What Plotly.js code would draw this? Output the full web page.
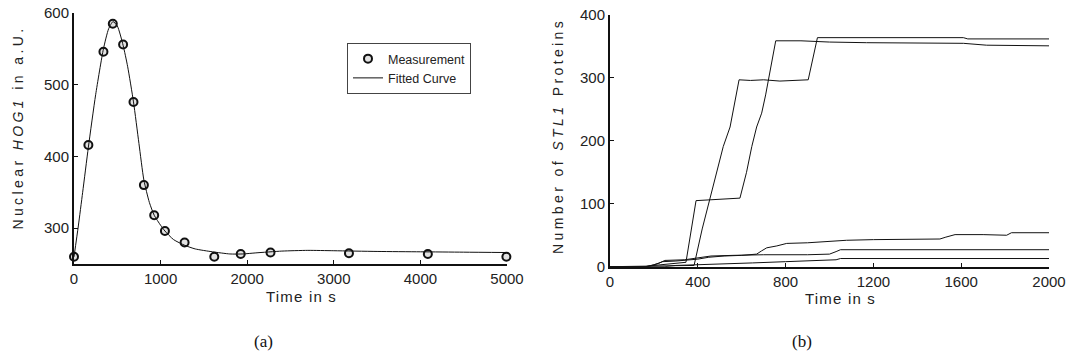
<!DOCTYPE html>
<html>
<head>
<meta charset="utf-8">
<script src="https://cdn.plot.ly/plotly-3.0.1.min.js"></script>
<style>
  html, body { margin: 0; padding: 0; background: #fff; }
  #chart { width: 1073px; height: 360px; }
  .ytitle, .y2title { letter-spacing: 3.4px; }
  .xtitle, .x2title { letter-spacing: 1.2px; }
  .g-xtitle, .g-x2title { transform: translateX(11px); }
  .g-ytitle { transform: translateY(-11px); }
  .g-y2title { transform: translateY(-5px); }
</style>
</head>
<body>
<div id="chart"></div>
<script>
// ---- Panel (a): nuclear HOG1 ----
const measTime  = [0, 166, 340, 448, 567, 687, 807, 926, 1050, 1277, 1620, 1925, 2269, 3175, 4086, 4993];
const measValue = [260, 416, 546, 585, 556, 476, 360, 318, 296, 280, 260, 264, 266, 265, 264, 260];

const fitTime  = [0, 50, 100, 166, 250, 340, 400, 450, 500, 567, 620, 687, 750, 807, 870, 926, 1000, 1050, 1150, 1280, 1400, 1600, 1800, 1950, 2100, 2400, 2700, 3000, 3500, 4000, 4500, 5000];
const fitValue = [260, 303, 350, 413, 486, 550, 578, 588, 582, 555, 525, 476, 418, 367, 336, 318, 304, 296, 284, 276, 271, 267, 264, 264, 265.5, 268, 269, 268.5, 267.5, 267, 266.5, 266];

// ---- Panel (b): STL1 protein trajectories ----
const trajATime  = [0, 160, 200, 260, 340, 346, 392, 450, 500, 592, 622, 646, 668, 691, 709, 729, 755, 870, 1000, 1169, 1400, 1610, 1716, 1850, 2000];
const trajAValue = [0, 0, 2, 4, 6, 7, 105, 106, 107, 109, 150, 191, 222, 244, 273, 310, 359, 359, 357, 356, 356, 355, 352, 351, 351];

const trajBTime  = [0, 300, 383, 420, 453, 478, 516, 547, 588, 640, 700, 774, 850, 903, 945, 1200, 1610, 1630, 2000];
const trajBValue = [0, 1, 2, 60, 104, 138, 191, 222, 297, 296, 297, 295, 296, 297, 364, 364, 364, 362, 362];

const trajCTime  = [0, 160, 200, 240, 300, 350, 400, 450, 520, 600, 650, 668, 690, 714, 760, 805, 900, 1000, 1078, 1200, 1300, 1503, 1530, 1572, 1700, 1807, 1829, 2000];
const trajCValue = [0, 0, 3, 8, 9, 10, 12, 15, 17, 18, 19, 20, 25, 30, 33, 37, 38, 40, 42, 43, 43, 44, 47, 51, 51, 50, 54, 54];

const trajDTime  = [0, 170, 220, 250, 340, 400, 460, 560, 700, 900, 1000, 1030, 1050, 2000];
const trajDValue = [0, 0, 5, 10, 11, 14, 17, 18, 19, 19, 20, 24, 27, 27];

const trajETime  = [0, 250, 300, 400, 550, 650, 800, 950, 1030, 1050, 2000];
const trajEValue = [0, 0, 2, 3, 4, 6, 8, 10, 11, 13, 13];

const xTicksA = [0, 1000, 2000, 3000, 4000, 5000];
const yTicksA = [300, 400, 500, 600];
const xTicksB = [0, 400, 800, 1200, 1600, 2000];
const yTicksB = [0, 100, 200, 300, 400];

const sans = 'Liberation Sans, Arial, Helvetica, sans-serif';
const W = 1073, H = 360;

const traj = (t, v) => ({
  x: t, y: v, xaxis: 'x2', yaxis: 'y2', type: 'scatter', mode: 'lines',
  line: {color: '#111', width: 1}, showlegend: false, hoverinfo: 'skip'
});

const data = [
  {x: measTime, y: measValue, type: 'scatter', mode: 'markers', name: 'Measurement',
   cliponaxis: false,
   marker: {symbol: 'circle', size: 8, color: '#e2e2e2', line: {color: '#111', width: 2}}},
  {x: fitTime, y: fitValue, type: 'scatter', mode: 'lines', name: 'Fitted Curve',
   line: {color: '#111', width: 1, shape: 'spline', smoothing: 0.6}},
  traj(trajATime, trajAValue),
  traj(trajBTime, trajBValue),
  traj(trajCTime, trajCValue),
  traj(trajDTime, trajDValue),
  traj(trajETime, trajEValue)
];

const axisCommon = {
  showgrid: false, zeroline: false, showline: true, mirror: false,
  linecolor: '#111', linewidth: 2,
  ticks: 'inside', ticklen: 4, tickwidth: 1, tickcolor: '#111',
  tickfont: {family: sans, size: 15, color: '#222'},
  tickmode: 'array'
};

const layout = {
  width: W, height: H,
  margin: {l: 0, r: 0, t: 0, b: 0},
  paper_bgcolor: '#fff', plot_bgcolor: '#fff',
  font: {family: sans, color: '#222'},
  showlegend: true,
  legend: {
    x: 347 / W, y: 1 - 43 / H, xanchor: 'left', yanchor: 'top',
    bordercolor: '#444', borderwidth: 1, bgcolor: '#fff',
    font: {family: sans, size: 12.5, color: '#222'},
    itemwidth: 30, tracegroupgap: 0
  },
  xaxis: Object.assign({}, axisCommon, {
    domain: [74 / W, 507 / W], range: [0, 5000], anchor: 'y',
    tickvals: xTicksA, ticktext: xTicksA.map(String),
    title: {text: 'Time in s', font: {family: sans, size: 15, color: '#222'}, standoff: 5}
  }),
  yaxis: Object.assign({}, axisCommon, {
    domain: [1 - 264 / H, 1 - 13 / H], range: [250, 600], anchor: 'x',
    tickvals: yTicksA, ticktext: yTicksA.map(String),
    title: {text: 'Nuclear <i>HOG1</i> in a.U.', font: {family: sans, size: 14, color: '#222'}, standoff: 17}
  }),
  xaxis2: Object.assign({}, axisCommon, {
    domain: [610 / W, 1049 / W], range: [0, 2000], anchor: 'y2',
    tickvals: xTicksB, ticktext: xTicksB.map(String),
    title: {text: 'Time in s', font: {family: sans, size: 15, color: '#222'}, standoff: 5}
  }),
  yaxis2: Object.assign({}, axisCommon, {
    domain: [1 - 266.7 / H, 1 - 15 / H], range: [0, 400], anchor: 'x2',
    tickvals: yTicksB, ticktext: yTicksB.map(String),
    title: {text: 'Number of <i>STL1</i> Proteins', font: {family: sans, size: 14, color: '#222'}, standoff: 13}
  }),
  annotations: [
    {text: '(a)', xref: 'paper', yref: 'paper', x: 263 / W, y: 1 - 341 / H,
     xanchor: 'center', yanchor: 'middle', showarrow: false,
     font: {family: 'Liberation Serif, Times New Roman, serif', size: 17, color: '#111'}},
    {text: '(b)', xref: 'paper', yref: 'paper', x: 802 / W, y: 1 - 341 / H,
     xanchor: 'center', yanchor: 'middle', showarrow: false,
     font: {family: 'Liberation Serif, Times New Roman, serif', size: 17, color: '#111'}}
  ]
};

Plotly.newPlot('chart', data, layout, {displayModeBar: false, staticPlot: true});
</script>
</body>
</html>
